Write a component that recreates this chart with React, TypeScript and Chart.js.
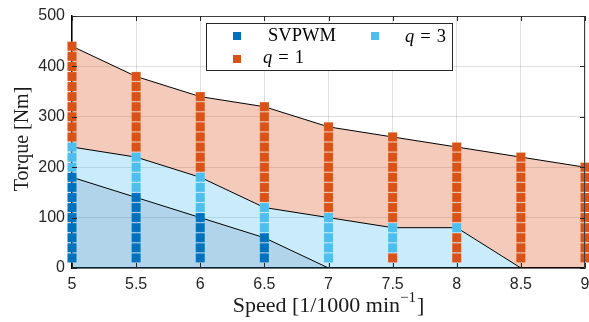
import React, { useEffect, useRef } from "react";
import { Chart, registerables } from "chart.js";

Chart.register(...registerables);

// ---- data ----
const speeds = [5, 5.5, 6, 6.5, 7, 7.5, 8, 8.5, 9];
// region boundaries (max torque per method)
const svpwmLimit = [180, 140, 100, 60, 0, 0, 0, 0, 0];
const q3Limit = [240, 220, 180, 120, 100, 80, 80, 0, 0];
const q1Limit = [440, 380, 340, 320, 280, 260, 240, 220, 200];
// operating points (every 20 Nm) and the method chosen
const opStep = 20;
const svpwmOpMax = [180, 140, 100, 60, 0, 0, 0, 0, 0];
const q3OpMin = [200, 160, 120, 80, 20, 40, 80, 0, 0];
const q3OpMax = [240, 220, 180, 120, 100, 80, 80, 0, 0];

const xTickValues = [5, 5.5, 6, 6.5, 7, 7.5, 8, 8.5, 9];
const yTickValues = [0, 100, 200, 300, 400, 500];

const legendLabels = ["SVPWM", "q = 1", "q = 3"];
const xTitle = "Speed [1/1000 min";
const xTitleSup = "\u22121";
const yTitle = "Torque [Nm]";

const C_SV = "#0072BD";
const C_Q1 = "#D95319";
const C_Q3 = "#4DBEEE";

type Pt = { x: number; y: number };

function buildOps(kind: "sv" | "q3" | "q1"): Pt[] {
  const pts: Pt[] = [];
  speeds.forEach((s, i) => {
    for (let t = opStep; t <= q1Limit[i]; t += opStep) {
      let k: string;
      if (t <= svpwmOpMax[i]) k = "sv";
      else if (q3OpMax[i] > 0 && t >= q3OpMin[i] && t <= q3OpMax[i]) k = "q3";
      else k = "q1";
      if (k === kind) pts.push({ x: s, y: t });
    }
  });
  return pts;
}

const line = (arr: number[]): Pt[] => speeds.map((s, i) => ({ x: s, y: arr[i] }));

const frame = {
  id: "frame",
  afterDraw(chart: any) {
    const { ctx, chartArea: a, scales } = chart;
    const xs = scales.x;
    const ys = scales.y;
    ctx.save();
    ctx.strokeStyle = "#404040";
    ctx.lineWidth = 1;
    ctx.beginPath();
    ctx.moveTo(a.left, a.top + 0.5);
    ctx.lineTo(a.right, a.top + 0.5);
    ctx.moveTo(a.right - 0.5, a.top);
    ctx.lineTo(a.right - 0.5, a.bottom);
    ctx.stroke();
    ctx.strokeStyle = "#262626";
    ctx.beginPath();
    const tl = 5;
    xTickValues.forEach((v) => {
      const px = Math.round(xs.getPixelForValue(v)) + 0.5;
      ctx.moveTo(px, a.bottom);
      ctx.lineTo(px, a.bottom - tl);
      ctx.moveTo(px, a.top);
      ctx.lineTo(px, a.top + tl);
    });
    yTickValues.forEach((v) => {
      const py = Math.round(ys.getPixelForValue(v)) + 0.5;
      ctx.moveTo(a.left, py);
      ctx.lineTo(a.left + tl, py);
      ctx.moveTo(a.right, py);
      ctx.lineTo(a.right - tl, py);
    });
    ctx.stroke();

    ctx.fillStyle = "#1a1a1a";
    const mainFont = '22px "Liberation Serif"';
    const supFont = '15px "Liberation Serif"';
    ctx.font = mainFont;
    const w1 = ctx.measureText(xTitle).width;
    ctx.font = supFont;
    const w2 = ctx.measureText(xTitleSup).width;
    ctx.font = mainFont;
    const w3 = ctx.measureText("]").width;
    const total = w1 + w2 + w3 + 1;
    const cx = (a.left + a.right) / 2;
    const x0 = cx - total / 2;
    const by = 312;
    ctx.textBaseline = "alphabetic";
    ctx.textAlign = "left";
    ctx.fillText(xTitle, x0, by);
    ctx.font = supFont;
    ctx.fillText(xTitleSup, x0 + w1, by - 10);
    ctx.font = mainFont;
    ctx.fillText("]", x0 + w1 + w2 + 1, by);

    ctx.save();
    ctx.translate(28, 139);
    ctx.rotate(-Math.PI / 2);
    ctx.font = '20px "Liberation Serif"';
    ctx.textAlign = "center";
    ctx.fillText(yTitle, 0, 0);
    ctx.restore();

    const lx = 206.5, ly = 23.5, lw = 246, lh = 47;
    ctx.fillStyle = "#ffffff";
    ctx.fillRect(lx, ly, lw, lh);
    ctx.strokeStyle = "#262626";
    ctx.lineWidth = 1;
    ctx.strokeRect(lx, ly, lw, lh);
    const ms = 8;
    const marker = (x: number, y: number, c: string) => {
      ctx.fillStyle = c;
      ctx.fillRect(x - ms / 2, y - ms / 2, ms, ms);
    };
    marker(237, 36, C_SV);
    marker(237, 59, C_Q1);
    marker(375, 36, C_Q3);
    ctx.fillStyle = "#000";
    ctx.font = '18.5px "Liberation Serif"';
    ctx.fillText(legendLabels[0], 268, 41);
    const drawQ = (label: string, x: number, y: number) => {
      const parts = label.split(" = ");
      ctx.font = 'italic 18.5px "Liberation Serif"';
      ctx.fillText(parts[0], x, y);
      const wq = ctx.measureText(parts[0]).width;
      ctx.font = '18.5px "Liberation Serif"';
      ctx.fillText("=", x + wq + 6, y);
      const we = ctx.measureText("=").width;
      ctx.fillText(parts[1], x + wq + 6 + we + 6, y);
    };
    drawQ(legendLabels[1], 263, 63);
    drawQ(legendLabels[2], 405, 42);
    ctx.restore();
  },
};

export default function App() {
  const ref = useRef<HTMLCanvasElement | null>(null);
  useEffect(() => {
    if (!ref.current) return;
    const markerDs = (data: Pt[], color: string) => ({
      type: "scatter" as const,
      data,
      showLine: false,
      pointStyle: "rect",
      pointRadius: 6.5,
      pointHoverRadius: 6.5,
      backgroundColor: color,
      borderColor: "rgba(255,255,255,0.25)",
      borderWidth: 0.5,
      clip: false as any,
    });
    const fillDs = (data: Pt[], color: string, fill: any) => ({
      type: "line" as const,
      data,
      fill,
      backgroundColor: color,
      borderColor: "#000000",
      borderWidth: 1,
      pointRadius: 0,
      tension: 0,
    });
    const chart = new Chart(ref.current, {
      type: "scatter",
      data: {
        datasets: [
          markerDs(buildOps("sv"), C_SV),
          markerDs(buildOps("q3"), C_Q3),
          markerDs(buildOps("q1"), C_Q1),
          fillDs(line(svpwmLimit), "rgba(0,114,189,0.3)", "origin"),
          fillDs(line(q3Limit), "rgba(77,190,238,0.3)", 3),
          fillDs(line(q1Limit), "rgba(217,83,25,0.3)", 4),
        ] as any,
      },
      options: {
        animation: false,
        responsive: false,
        events: [],
        layout: { padding: { left: 0, right: 4, top: 16, bottom: 0 }, autoPadding: false },
        plugins: { legend: { display: false }, tooltip: { enabled: false }, title: { display: false } },
        scales: {
          x: {
            type: "linear",
            min: 5,
            max: 9,
            afterFit: (s: any) => {
              s.height = 54;
              s.paddingLeft = 0;
              s.paddingRight = 0;
            },
            afterBuildTicks: (s: any) => { s.ticks = xTickValues.map((v) => ({ value: v })); },
            ticks: {
              font: { family: "Liberation Sans", size: 16 },
              color: "#262626",
              padding: 7,
              maxRotation: 0,
              callback: (v: any) => String(v),
            },
            grid: { color: "rgba(38,38,38,0.15)", drawTicks: false, lineWidth: 1 },
            border: { color: "#000000", width: 1.5 },
          },
          y: {
            type: "linear",
            min: 0,
            max: 500,
            afterFit: (s: any) => {
              s.width = 72;
              s.paddingTop = 0;
              s.paddingBottom = 0;
            },
            afterBuildTicks: (s: any) => { s.ticks = yTickValues.map((v) => ({ value: v })); },
            ticks: {
              font: { family: "Liberation Sans", size: 16 },
              color: "#262626",
              padding: 7,
              callback: (v: any) => String(v),
            },
            grid: { color: "rgba(38,38,38,0.15)", drawTicks: false, lineWidth: 1 },
            border: { color: "#000000", width: 1.5 },
          },
        },
      } as any,
      plugins: [frame],
    });
    return () => chart.destroy();
  }, []);
  return (
    <div style={{ position: "fixed", left: 0, top: 0, width: 589, height: 322, background: "#fff" }}>
      <canvas ref={ref} width={589} height={322} style={{ display: "block" }} />
    </div>
  );
}
